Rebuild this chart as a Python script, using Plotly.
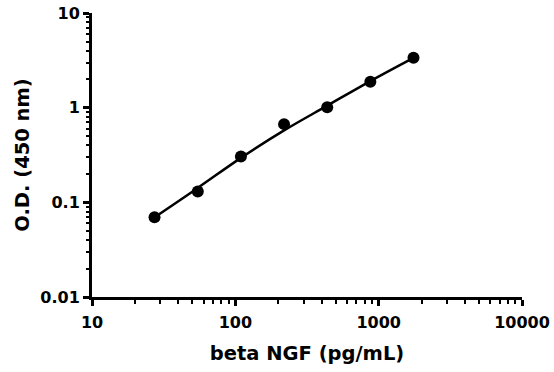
import plotly.graph_objects as go

conc = [27.3, 54.7, 109.4, 218.8, 437.5, 875, 1750]
od = [0.0695, 0.130, 0.305, 0.67, 1.01, 1.88, 3.36]
fit_od = [0.0695, 0.142, 0.295, 0.575, 1.05, 1.91, 3.36]

x_ticks = [10, 100, 1000, 10000]
x_labels = ["10", "100", "1000", "10000"]
x_minor = [20, 30, 40, 50, 60, 70, 80, 90, 200, 300, 400, 500, 600, 700, 800, 900,
           2000, 3000, 4000, 5000, 6000, 7000, 8000, 9000]
y_ticks = [0.01, 0.1, 1, 10]
y_labels = ["0.01", "0.1", "1", "10"]
y_minor = [0.02, 0.03, 0.04, 0.05, 0.06, 0.07, 0.08, 0.09, 0.2, 0.3, 0.4, 0.5, 0.6, 0.7,
           0.8, 0.9, 2, 3, 4, 5, 6, 7, 8, 9]

FAM = "DejaVu Sans, Arial, sans-serif"

fig = go.Figure()
fig.add_trace(go.Scatter(x=conc, y=fit_od, mode="lines",
                         line=dict(color="black", width=2.5, shape="spline", smoothing=1.0),
                         showlegend=False, hoverinfo="skip"))
fig.add_trace(go.Scatter(x=conc, y=od, mode="markers",
                         marker=dict(color="black", size=12),
                         showlegend=False))

tickfont = dict(family=FAM, size=16, color="black", weight="bold")
titlefont = dict(family=FAM, size=19.5, color="black", weight="bold")


def axis_style(minor_vals):
    return dict(type="log", showgrid=False, zeroline=False, showline=True,
                linecolor="black", linewidth=3, ticks="outside", ticklen=6,
                tickwidth=2.5, tickcolor="black", automargin=False,
                ticklabeloverflow="allow",
                minor=dict(tickmode="array", tickvals=minor_vals, ticks="outside",
                           ticklen=3.5, tickwidth=2, tickcolor="black", showgrid=False),
                tickfont=tickfont)


fig.update_xaxes(**axis_style(x_minor), range=[1, 4], tickmode="array",
                 tickvals=x_ticks, ticktext=x_labels, ticklabelstandoff=3,
                 title=dict(text="beta NGF (pg/mL)", font=titlefont, standoff=16))
fig.update_yaxes(**axis_style(y_minor), range=[-2, 1], tickmode="array",
                 tickvals=y_ticks, ticktext=y_labels,
                 title=dict(text="O.D. (450 nm)", font=titlefont, standoff=6))

fig.update_layout(width=554, height=372, plot_bgcolor="white", paper_bgcolor="white",
                  margin=dict(l=92, r=32, t=13, b=75))
fig.write_html("out.html", config={"displayModeBar": False},
               post_script="document.body.style.margin='0';document.body.style.overflow='hidden';")
